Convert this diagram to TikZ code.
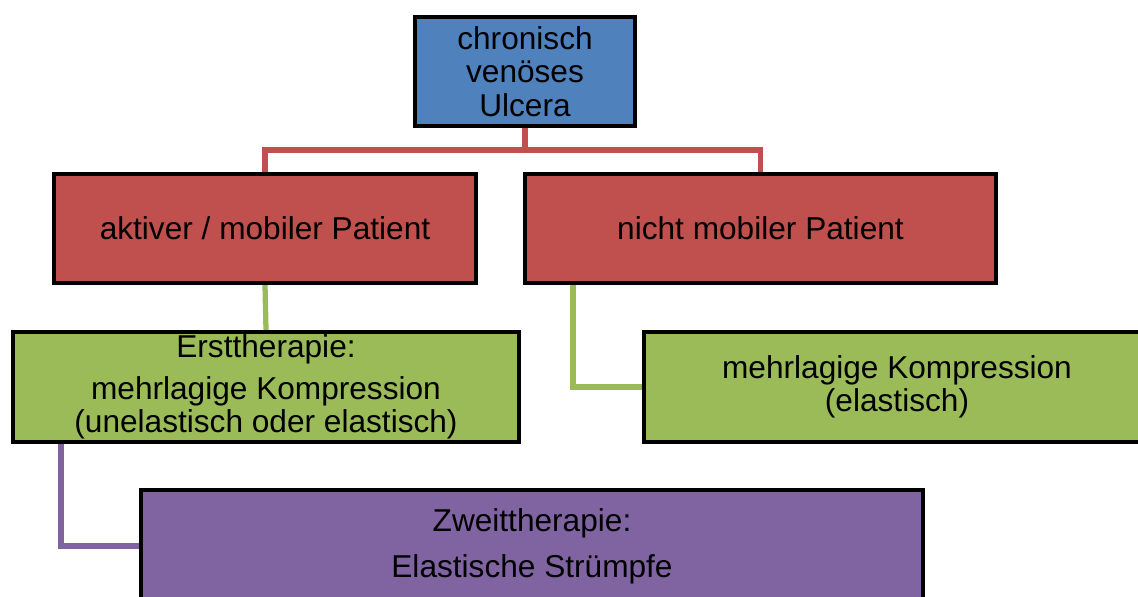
\documentclass[tikz,border=0pt]{standalone}
\usepackage{fontspec}
\setmainfont{Liberation Sans}
\usetikzlibrary{positioning,backgrounds}

\definecolor{ulcblue}{HTML}{4F81BD}
\definecolor{ulcred}{HTML}{C0504D}
\definecolor{ulcgreen}{HTML}{9BBB59}
\definecolor{ulcpurple}{HTML}{8064A2}

\tikzset{
  box/.style={draw=black, line width=2.4pt, rectangle, align=center,
    inner sep=0pt, font=\fontsize{18}{19}\selectfont},
  link/.style={line width=3pt},
}

\begin{document}
\begin{tikzpicture}[x=0.02cm,y=-0.02cm]
        \useasboundingbox (0,0) rectangle (1138,597);
        % Define the boxes
        \node[box, fill=ulcblue, minimum width=4.4cm, minimum height=2.18cm] (ulcera) at (525,71.5) {chronisch\\venöses\\Ulcera};
        \node[box, fill=ulcred, minimum width=8.44cm, minimum height=2.18cm] (mobil) at (265,228.5) {aktiver / mobiler Patient};
        \node[box, fill=ulcred, minimum width=9.42cm, minimum height=2.18cm] (immobil) at (760.5,228.5) {nicht mobiler Patient};
        \node[box, fill=ulcgreen, minimum width=10.12cm, minimum height=2.2cm] (erst) at (266,387) {Ersttherapie:\\[4.5pt]mehrlagige Kompression\\(unelastisch oder elastisch)};
        \node[box, fill=ulcgreen, minimum width=10.12cm, minimum height=2.2cm] (kompr) at (897,387) {mehrlagige Kompression\\(elastisch)};
        \node[box, fill=ulcpurple, minimum width=15.64cm, minimum height=2.24cm] (zweit) at (532,546) {Zweittherapie:\\[7pt]Elastische Strümpfe};
        % Add connectors
        \begin{scope}[on background layer]
        \draw[link, draw=ulcred] (ulcera.south) -- ++(0,22) -| (mobil.north);
        \draw[link, draw=ulcred] (ulcera.south) -- ++(0,22) -| (immobil.north);
        \draw[link, draw=ulcgreen] (mobil.south) -- (erst.north);
        \draw[link, draw=ulcgreen] ([xshift=1cm]immobil.south west) |- (kompr.west);
        \draw[link, draw=ulcpurple] ([xshift=1cm]erst.south west) |- (zweit.west);
        \end{scope}
\end{tikzpicture}
\end{document}
